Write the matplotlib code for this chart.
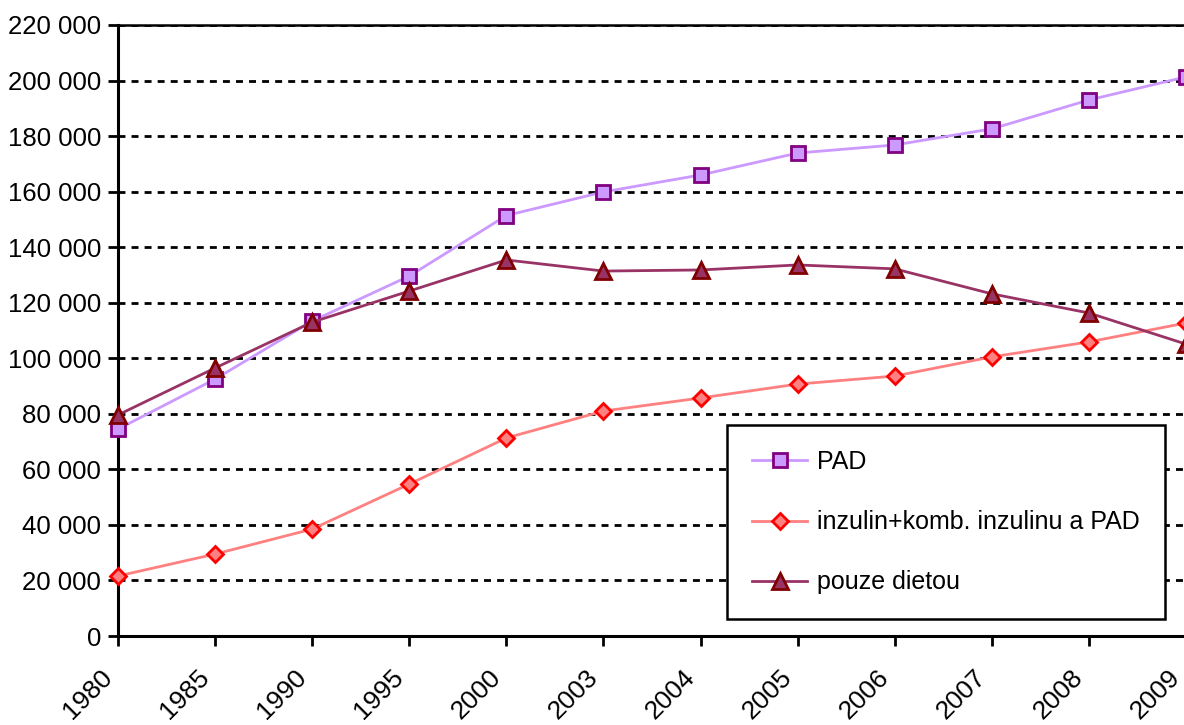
import matplotlib.pyplot as plt
import numpy as np

years = ["1980", "1985", "1990", "1995", "2000", "2003", "2004", "2005", "2006", "2007", "2008", "2009"]
pad = [74500, 92500, 113400, 129600, 151400, 159900, 166000, 173900, 176800, 182600, 193000, 201300]
inzulin = [21600, 29500, 38500, 54700, 71300, 81000, 85700, 90700, 93600, 100500, 105900, 112700]
dieta = [79600, 96500, 113000, 124200, 135400, 131400, 131800, 133600, 132200, 123200, 116300, 105100]
labels = ["PAD", "inzulin+komb. inzulinu a PAD", "pouze dietou"]

plt.rcParams['font.family'] = ['Liberation Sans', 'DejaVu Sans']

fig = plt.figure(figsize=(11.84, 7.25), dpi=100)
ax = fig.add_axes([118/1184, 1 - 636/725, (1186 - 118)/1184, (636 - 25)/725])

x = np.arange(len(years))
ax.plot(x, pad, color='#CC99FF', lw=2, marker='s', ms=10, mfc='#CC99FF', mec='#800080', mew=2,
        label=labels[0], clip_on=False, zorder=5)
ax.plot(x, inzulin, color='#FF8080', lw=2, marker='D', ms=8.5, mfc='#FF8080', mec='#FF0000', mew=2,
        label=labels[1], clip_on=False, zorder=5)
ax.plot(x, dieta, color='#993366', lw=2, marker='^', ms=11, mfc='#993366', mec='#800000', mew=2,
        label=labels[2], clip_on=False, zorder=5)

ax.set_xlim(0, 11)
ax.set_ylim(0, 220000)
ax.set_yticks(np.arange(0, 220001, 20000))
ax.set_yticklabels([f"{v:,}".replace(",", " ") for v in range(0, 220001, 20000)], fontsize=18.5)
ax.set_xticks(x)
ax.set_xticklabels([])
# rotated year labels, placed like the original (below and left of each tick)
for i, yr in zip(x, years):
    ax.annotate(yr, xy=(i, 0), xycoords=('data', 'axes fraction'), xytext=(-13, -21),
                textcoords='offset points', fontsize=19, rotation=45, ha='right', va='top',
                rotation_mode='anchor', annotation_clip=False)
ax.tick_params(axis='y', length=7, width=2, direction='out', pad=5)
ax.tick_params(axis='x', length=7, width=2, direction='out')

ax.grid(axis='y', color='black', lw=2, linestyle=(0, (2.5, 2.2)))
ax.set_axisbelow(True)
for s in ['left', 'bottom']:
    ax.spines[s].set_linewidth(2.2)
ax.spines['top'].set_linewidth(1.8)
ax.spines['right'].set_visible(False)

leg = ax.legend(loc='upper left', bbox_to_anchor=(727/1184, 1 - 425/725), bbox_transform=fig.transFigure,
                fontsize=18, frameon=True, fancybox=False, edgecolor='black', framealpha=1,
                handlelength=2.2, labelspacing=1.45, borderpad=1.0, handletextpad=0.4, borderaxespad=0)
leg.get_frame().set_linewidth(1.8)
leg.set_zorder(10)

fig.savefig('out.png', dpi=100)
